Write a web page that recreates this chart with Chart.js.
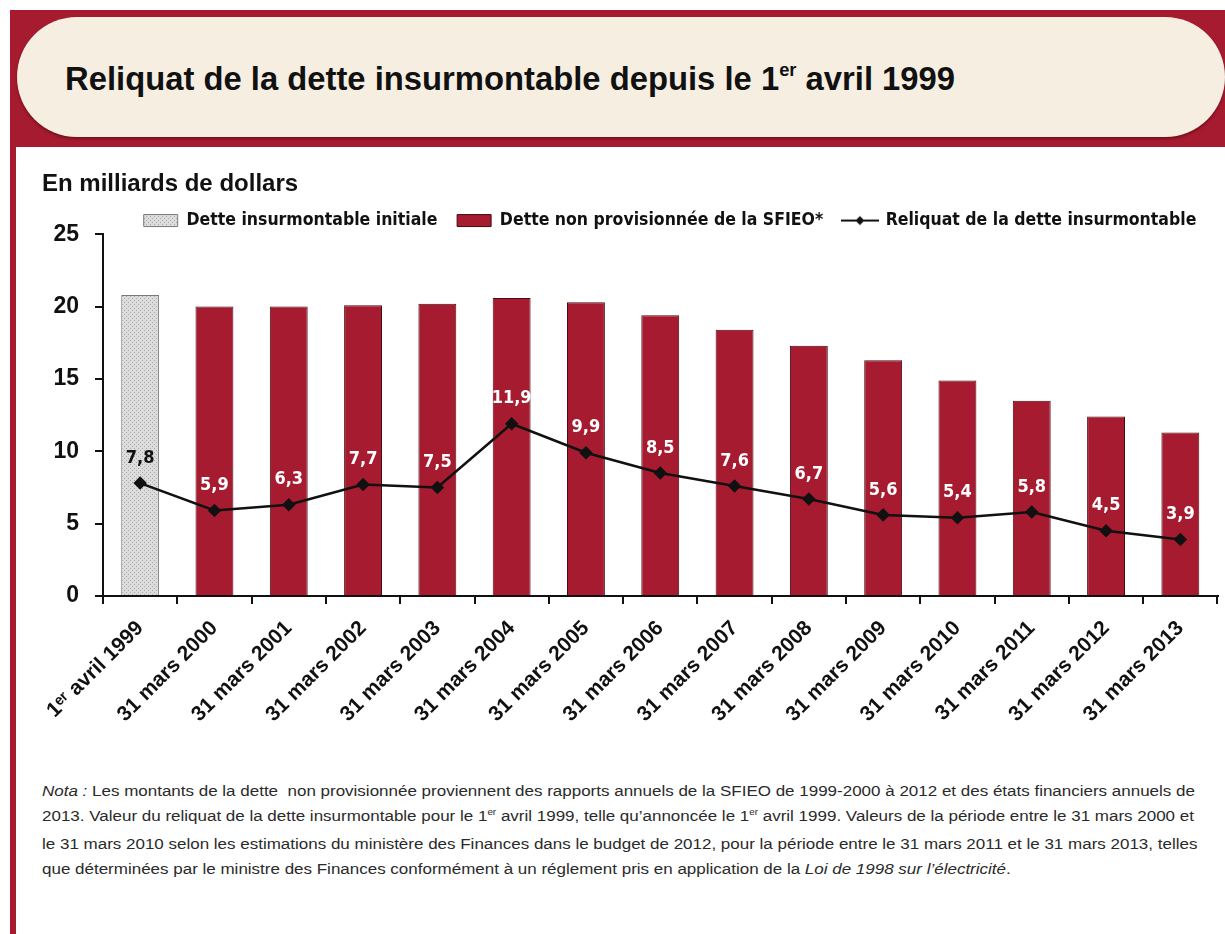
<!DOCTYPE html>
<html lang="fr">
<head>
<meta charset="utf-8">
<title>Reliquat de la dette insurmontable</title>
<script src="https://cdn.jsdelivr.net/npm/chart.js@4.4.0/dist/chart.umd.min.js"></script>
<style>
  html,body{margin:0;padding:0;background:#fff;}
  body{width:1225px;height:934px;position:relative;overflow:hidden;font-family:"Liberation Sans",Arial,sans-serif;}
  #band{position:absolute;left:10px;top:10px;width:1215px;height:137px;background:#a61b30;}
  #leftline{position:absolute;left:10px;top:140px;width:6px;height:800px;background:#a61b30;}
  #pill{position:absolute;left:17px;top:17px;width:1208px;height:120px;border-radius:60px;background:#f6efe1;box-shadow:0 2px 3px rgba(60,0,0,.45);}
  #pill h1{position:absolute;left:48px;top:42px;margin:0;font:bold 34px "Liberation Sans",Arial,sans-serif;color:#111;white-space:nowrap;transform-origin:0 0;}
  #pill sup{font-size:19px;vertical-align:0;position:relative;top:-14px;}
  #wrap{position:absolute;left:16px;top:150px;width:1209px;height:589px;}
  #note{position:absolute;left:42px;top:778px;margin:0;font:15.5px/25px "Liberation Sans",Arial,sans-serif;color:#2a2a2a;white-space:nowrap;transform-origin:0 0;}
  #note sup{font-size:9px;vertical-align:0;position:relative;top:-6px;}
</style>
</head>
<body>
<div id="band"></div>
<div id="leftline"></div>
<div id="pill"><h1 id="title">Reliquat de la dette insurmontable depuis le 1<sup>er</sup> avril 1999</h1></div>
<div id="wrap"><canvas id="chart"></canvas></div>
<p id="note"><i>Nota :</i> Les montants de la dette&nbsp; non provisionnée proviennent des rapports annuels de la SFIEO de 1999-2000 à 2012 et des états financiers annuels de<br>2013. Valeur du reliquat de la dette insurmontable pour le 1<sup>er</sup> avril 1999, telle qu’annoncée le 1<sup>er</sup> avril 1999. Valeurs de la période entre le 31 mars 2000 et<br>le 31 mars 2010 selon les estimations du ministère des Finances dans le budget de 2012, pour la période entre le 31 mars 2011 et le 31 mars 2013, telles<br>que déterminées par le ministre des Finances conformément à un réglement pris en application de la <i>Loi de 1998 sur l’électricité</i>.</p>

<script>
// categories and values
const labels = ['1ᵉʳ avril 1999','31 mars 2000','31 mars 2001','31 mars 2002','31 mars 2003','31 mars 2004','31 mars 2005','31 mars 2006','31 mars 2007','31 mars 2008','31 mars 2009','31 mars 2010','31 mars 2011','31 mars 2012','31 mars 2013'];
const detteInitiale = [20.8,null,null,null,null,null,null,null,null,null,null,null,null,null,null];
const detteSfieo = [null,20.0,20.0,20.1,20.2,20.6,20.3,19.4,18.4,17.3,16.3,14.9,13.5,12.4,11.3];
const reliquat = [7.8,5.9,6.3,7.7,7.5,11.9,9.9,8.5,7.6,6.7,5.6,5.4,5.8,4.5,3.9];
const yTicks = [0,5,10,15,20,25];

const RED = '#a61b30';
const FONT = '"Liberation Sans", Arial, sans-serif';
const NARROW = '"DejaVu Sans Condensed", "Liberation Sans", Arial, sans-serif';

function fmt(v){ return v.toFixed(1).replace('.', ','); }

// squeeze narrow-looking text to the width it has in the picture
function fitWidth(id, w){
  const el = document.getElementById(id);
  el.style.transform = 'scaleX(' + (w / el.offsetWidth) + ')';
}
fitWidth('title', 890);
fitWidth('note', 1155);

// dotted grey fill for the first bar
function makeHatch(){
  const c = document.createElement('canvas');
  c.width = 4; c.height = 4;
  const g = c.getContext('2d');
  g.fillStyle = '#dcdcdc'; g.fillRect(0,0,4,4);
  g.fillStyle = '#a9a9a9';
  g.fillRect(0,0,1,1); g.fillRect(2,2,1,1);
  return g.createPattern(c,'repeat');
}
const hatch = makeHatch();

// legend icon for the line
function makeLineIcon(){
  const c = document.createElement('canvas');
  c.width = 38; c.height = 12;
  const g = c.getContext('2d');
  g.strokeStyle = '#111'; g.lineWidth = 2;
  g.beginPath(); g.moveTo(0,6); g.lineTo(38,6); g.stroke();
  g.fillStyle = '#111';
  g.beginPath(); g.moveTo(19,1.5); g.lineTo(23.5,6); g.lineTo(19,10.5); g.lineTo(14.5,6); g.closePath(); g.fill();
  return c;
}
const lineIcon = makeLineIcon();

const valueLabels = {
  id: 'valueLabels',
  afterDatasetsDraw(chart){
    const meta = chart.getDatasetMeta(2);
    const ctx = chart.ctx;
    ctx.save();
    ctx.font = 'bold 18px ' + NARROW;
    ctx.textAlign = 'center';
    ctx.textBaseline = 'middle';
    meta.data.forEach((pt,i)=>{
      ctx.fillStyle = i===0 ? '#111' : '#fff';
      ctx.fillText(fmt(reliquat[i]), pt.x, pt.y - 25);
    });
    ctx.restore();
  }
};

// the legend sits a little right of centre and lower in the picture
const legendShift = {
  id: 'legendShift',
  afterLayout(chart){
    const lg = chart.legend;
    lg.left += 40; lg.right += 40;
    lg.top += 5; lg.bottom += 5;
  }
};

new Chart(document.getElementById('chart'), {
  type: 'bar',
  data: {
    labels: labels,
    datasets: [
      { label: 'Dette insurmontable initiale', data: detteInitiale, backgroundColor: hatch, borderColor: '#7a7a7a', borderWidth: 1, grouped: false, categoryPercentage: 1, barPercentage: 0.51, order: 2 },
      { label: 'Dette non provisionnée de la SFIEO*', data: detteSfieo, backgroundColor: RED, borderColor: '#4a0a12', borderWidth: 1, grouped: false, categoryPercentage: 1, barPercentage: 0.51, order: 2 },
      { type: 'line', label: 'Reliquat de la dette insurmontable', data: reliquat, borderColor: '#111', backgroundColor: '#111', borderWidth: 2.5, pointStyle: 'rectRot', pointRadius: 5, pointBackgroundColor: '#111', tension: 0, order: 1 }
    ]
  },
  options: {
    responsive: true,
    maintainAspectRatio: false,
    animation: false,
    layout: { padding: { left: 26, right: 7, top: 0, bottom: 0 } },
    plugins: {
      title: { display: true, text: 'En milliards de dollars', align: 'start', color: '#111', font: { family: FONT, size: 24, weight: 'bold' }, padding: { top: 20, bottom: 4 } },
      legend: {
        display: true,
        labels: {
          usePointStyle: true,
          pointStyleWidth: 34,
          boxHeight: 12,
          padding: 4,
          color: '#111',
          font: { family: NARROW, size: 17.5, weight: 'bold' },
          sort: (a,b) => a.datasetIndex - b.datasetIndex,
          generateLabels(chart){
            const items = Chart.defaults.plugins.legend.labels.generateLabels(chart);
            items.forEach(it=>{
              if(it.datasetIndex===2){ it.pointStyle = lineIcon; }
              else { it.pointStyle = 'rect'; it.lineWidth = 1; it.text += '\u2002\u2002'; }
            });
            return items;
          }
        }
      },
      tooltip: { enabled: false }
    },
    scales: {
      x: {
        grid: { display: true, offset: true, drawOnChartArea: false, drawTicks: true, tickLength: 8, color: '#111', lineWidth: 2 },
        border: { display: true, color: '#111', width: 2 },
        ticks: { color: '#111', maxRotation: 45, minRotation: 45, padding: 12, font: { family: FONT, size: 21, weight: 'bold' } }
      },
      y: {
        min: 0, max: 25,
        afterBuildTicks(scale){ scale.ticks = yTicks.map(v=>({value:v})); },
        afterFit(scale){ scale.width = 61; },
        grid: { display: true, drawOnChartArea: false, drawTicks: true, tickLength: 8, color: '#111', lineWidth: 2 },
        border: { display: true, color: '#111', width: 2 },
        ticks: { color: '#111', padding: 16, font: { family: FONT, size: 23, weight: 'bold' } }
      }
    }
  },
  plugins: [valueLabels, legendShift]
});
</script>
</body>
</html>
